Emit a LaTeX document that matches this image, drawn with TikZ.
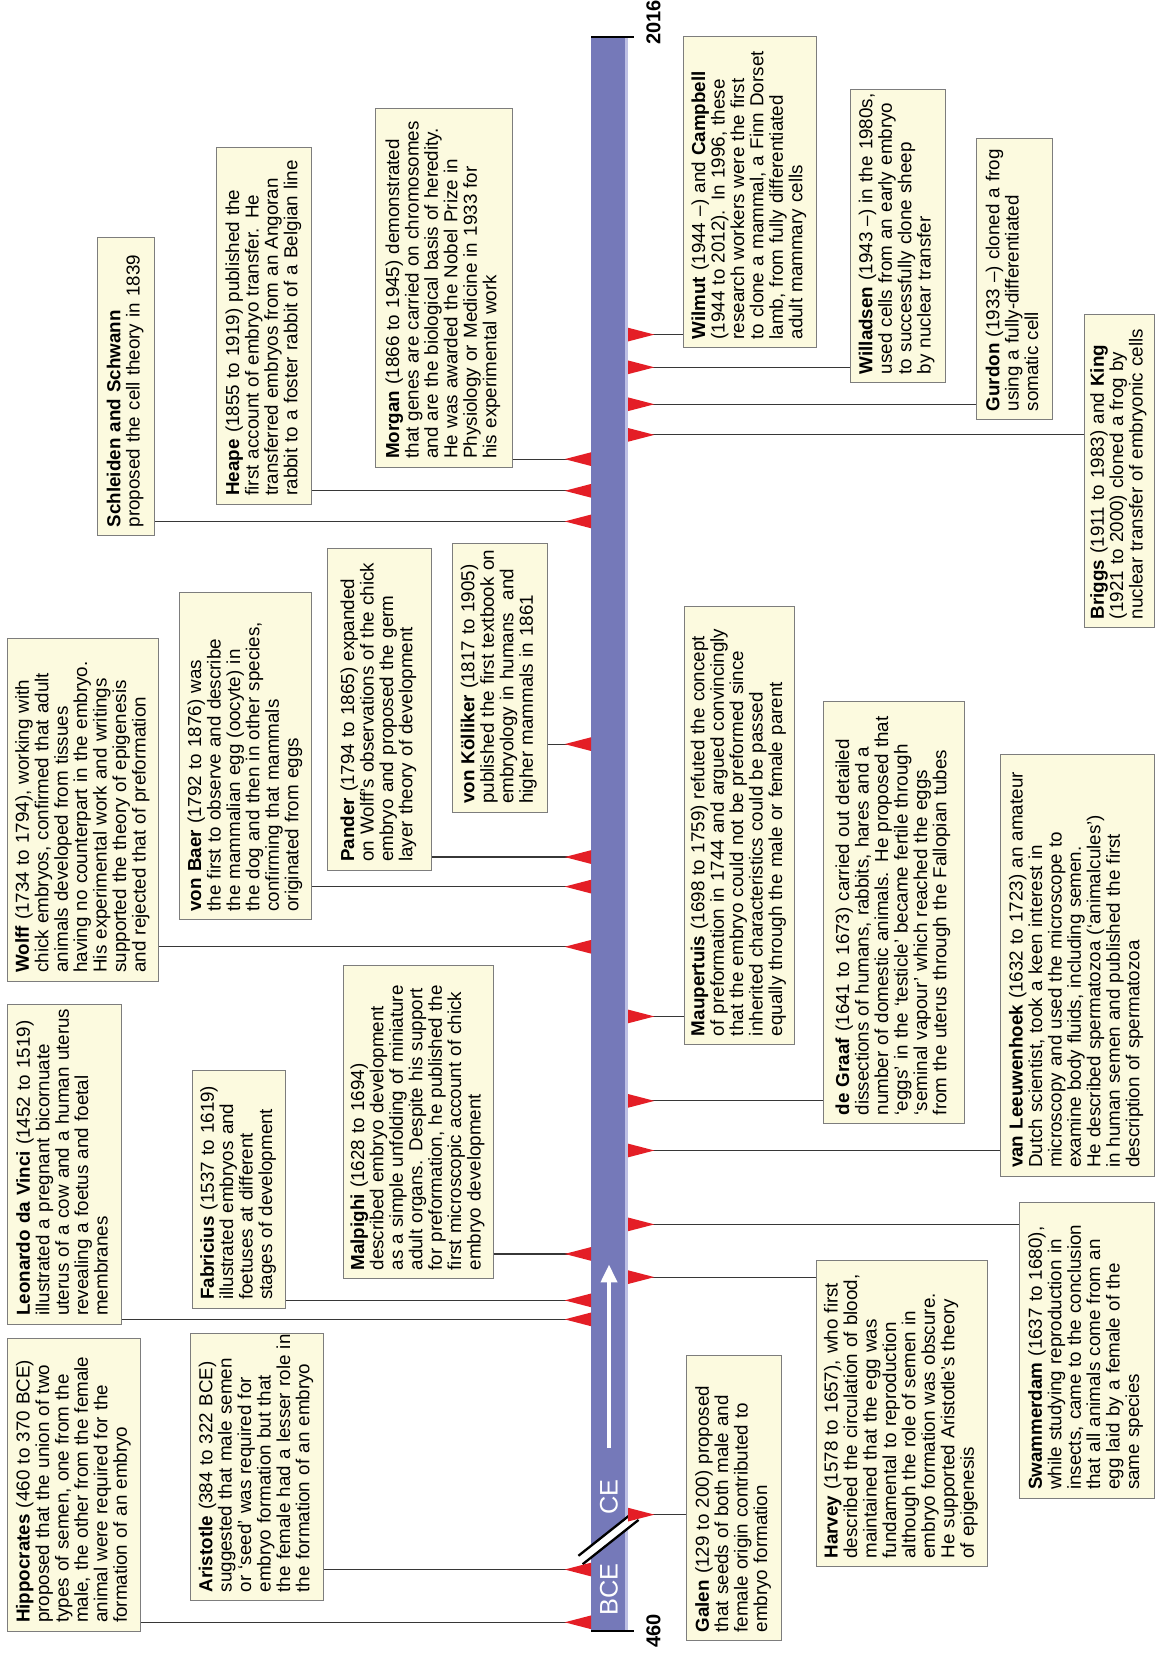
\documentclass[tikz,border=0pt]{standalone}
\usepackage{fontspec}
\setmainfont{Liberation Sans}
\usetikzlibrary{arrows.meta}
\definecolor{barblue}{RGB}{117,121,185}
\definecolor{barlight}{RGB}{190,192,228}
\definecolor{boxfill}{RGB}{252,250,223}
\definecolor{boxgray}{RGB}{125,125,125}
\definecolor{connc}{RGB}{55,55,55}
\definecolor{mkred}{RGB}{228,30,38}
\newcommand\tx[1]{\noindent\begin{tabular}{@{}l@{}}#1\end{tabular}}
\begin{document}
\begin{tikzpicture}[x=1pt,y=1pt,
  ev/.style={draw=boxgray, fill=boxfill, line width=0.9pt, rotate=90, anchor=north west,
    inner xsep=8pt, inner ysep=4pt, font=\fontsize{17.8}{18.4}\selectfont},
  conn/.style={draw=connc, line width=1.1pt},
  mk/.style={fill=mkred},
  yr/.style={font=\fontsize{19}{19}\selectfont\bfseries, rotate=90, inner sep=0pt},
  era/.style={font=\fontsize{24}{24}\selectfont, text=white, rotate=90, inner sep=0pt}]
\useasboundingbox (0,0) rectangle (1094,-1568);
\fill[white] (0,0) rectangle (1094,-1568);

% timeline bar
\node[fill=barblue, minimum width=35pt, minimum height=1510pt, inner sep=0pt, anchor=north west] (bar) at (560,-35) {};
\fill[barlight] (592,-35) rectangle (595,-1545);
\draw[line width=2pt] (bar.north west) -- ++(41,0);
\draw[line width=2pt] (bar.south west) -- ++(41,0);
\node[yr] (y2016) at (619,-21) {2016};
\node[yr] (y460) at (619,-1545) {460};

% era marks
\node[era] (bce) at (577,-1506) {BCE};
\node[era] (ce) at (577,-1418) {CE};
\draw[white, line width=7pt] (550,-1478) -- (603,-1436);
\draw[black, line width=2.2pt] (548,-1474) -- (601,-1432);
\draw[black, line width=2.2pt] (552,-1482) -- (605,-1440);
\coordinate (arA) at (577,-1372);
\coordinate (arB) at (577,-1198);
\draw[white, line width=4pt, -{Triangle[length=17pt,width=15pt]}] (arA) -- (arB);

% ---------- left boxes ----------
\node[ev, minimum width=277pt, minimum height=126pt, text width=261pt] (hipp) at (7,-1546) {\tx{\textbf{Hippocrates} (460 to 370 BCE)\\proposed that the union of two\\types of semen, one from the\\male, the other from the female\\animal were required for the\\formation of an embryo}};
\node[ev, minimum width=253pt, minimum height=126pt, text width=237pt] (arist) at (180,-1517) {\tx{\textbf{Aristotle} (384 to 322 BCE)\\suggested that male semen\\or ‘seed’ was required for\\embryo formation but that\\the female had a lesser role in\\the formation of an embryo}};
\node[ev, minimum width=303pt, minimum height=108pt, text width=287pt] (leo) at (7,-1255) {\tx{\textbf{Leonardo da Vinci} (1452 to 1519)\\illustrated a pregnant bicornuate\\uterus of a cow and a human uterus\\revealing a foetus and foetal\\membranes}};
\node[ev, minimum width=225pt, minimum height=88pt, text width=209pt] (fab) at (182,-1240) {\tx{\textbf{Fabricius} (1537 to 1619)\\illustrated embryos and\\foetuses at different\\stages of development}};
\node[ev, minimum width=297pt, minimum height=142pt, text width=281pt] (malp) at (325,-1212) {\tx{\textbf{Malpighi} (1628 to 1694)\\described embryo development\\as a simple unfolding of miniature\\adult organs. Despite his support\\for preformation, he published the\\first microscopic account of chick\\embryo development}};
\node[ev, minimum width=325pt, minimum height=143pt, text width=309pt] (wolff) at (7,-930) {\tx{\textbf{Wolff} (1734 to 1794), working with\\chick embryos, confirmed that adult\\animals developed from tissues\\having no counterpart in the embryo.\\His experimental work and writings\\supported the theory of epigenesis\\and rejected that of preformation}};
\node[ev, minimum width=310pt, minimum height=125pt, text width=294pt] (baer) at (170,-872) {\tx{\textbf{von Baer} (1792 to 1876) was\\the first to observe and describe\\the mammalian egg (oocyte) in\\the dog and then in other species,\\confirming that mammals\\originated from eggs}};
\node[ev, minimum width=305pt, minimum height=98pt, text width=289pt] (pander) at (310,-825) {\tx{\textbf{Pander} (1794 to 1865) expanded\\on Wolff’s observations of the chick\\embryo and proposed the germ\\layer theory of development}};
\node[ev, minimum width=255pt, minimum height=90pt, text width=239pt] (koll) at (428,-770) {\tx{\textbf{von Kölliker} (1817 to 1905)\\published the first textbook on\\embryology in humans \ and\\higher mammals in 1861}};
\node[ev, minimum width=283pt, minimum height=54pt, text width=267pt] (schl) at (92,-508) {\tx{\textbf{Schleiden and Schwann}\\proposed the cell theory in 1839}};
\node[ev, minimum width=338pt, minimum height=90pt, text width=322pt] (heape) at (205,-478) {\tx{\textbf{Heape} (1855 to 1919) published the\\first account of embryo transfer. He\\transferred embryos from an Angoran\\rabbit to a foster rabbit of a Belgian line}};
\node[ev, minimum width=340pt, minimum height=130pt, text width=324pt] (morgan) at (355,-443) {\tx{\textbf{Morgan} (1866 to 1945) demonstrated\\that genes are carried on chromosomes\\and are the biological basis of heredity.\\He was awarded the Nobel Prize in\\Physiology or Medicine in 1933 for\\his experimental work}};

% ---------- right boxes ----------
\node[ev, minimum width=270pt, minimum height=90pt, text width=254pt] (galen) at (650,-1555) {\tx{\textbf{Galen} (129 to 200) proposed\\that seeds of both male and\\female origin contributed to\\embryo formation}};
\node[ev, minimum width=290pt, minimum height=162pt, text width=274pt] (harvey) at (773,-1485) {\tx{\textbf{Harvey} (1578 to 1657), who first\\described the circulation of blood,\\maintained that the egg was\\fundamental to reproduction\\although the role of semen in\\embryo formation was obscure.\\He supported Aristotle’s theory\\of epigenesis}};
\node[ev, minimum width=280pt, minimum height=128pt, text width=264pt] (swamm) at (965,-1420) {\tx{\textbf{Swammerdam} (1637 to 1680),\\while studying reproduction in\\insects, came to the conclusion\\that all animals come from an\\egg laid by a female of the\\same species}};
\node[ev, minimum width=400pt, minimum height=146pt, text width=384pt] (leeuw) at (947,-1115) {\tx{\textbf{van Leeuwenhoek} (1632 to 1723) an amateur\\Dutch scientist, took a keen interest in\\microscopy and used the microscope to\\examine body fluids, including semen.\\He described spermatozoa (‘animalcules’)\\in human semen and published the first\\description of spermatozoa}};
\node[ev, minimum width=400pt, minimum height=133pt, text width=384pt] (graaf) at (780,-1065) {\tx{\textbf{de Graaf} (1641 to 1673) carried out detailed\\dissections of humans, rabbits, hares and a\\number of domestic animals. He proposed that\\‘eggs’ in the ‘testicle’ became fertile through\\‘seminal vapour’ which reached the eggs\\from the uterus through the Fallopian tubes}};
\node[ev, minimum width=415pt, minimum height=104pt, text width=399pt] (maup) at (648,-990) {\tx{\textbf{Maupertuis} (1698 to 1759) refuted the concept\\of preformation in 1744 and argued convincingly\\that the embryo could not be preformed since\\inherited characteristics could be passed\\equally through the male or female parent}};
\node[ev, minimum width=297pt, minimum height=66pt, text width=281pt] (briggs) at (1027,-595) {\tx{\textbf{Briggs} (1911 to 1983) and \textbf{King}\\(1921 to 2000) cloned a frog by\\nuclear transfer of embryonic cells}};
\node[ev, minimum width=266pt, minimum height=72pt, text width=250pt] (gurdon) at (925,-398) {\tx{\textbf{Gurdon} (1933 –) cloned a frog\\using a fully-differentiated\\somatic cell}};
\node[ev, minimum width=278pt, minimum height=90pt, text width=262pt] (willad) at (805,-363) {\tx{\textbf{Willadsen} (1943 –) in the 1980s,\\used cells from an early embryo\\to successfully clone sheep\\by nuclear transfer}};
\node[ev, minimum width=295pt, minimum height=126pt, text width=279pt] (wilmut) at (647,-330) {\tx{\textbf{Wilmut} (1944 –) and \textbf{Campbell}\\(1944 to 2012). In 1996, these\\research workers were the first\\to clone a mammal, a Finn Dorset\\lamb, from fully differentiated\\adult mammary cells}};

% ---------- anchor points on the bar ----------
\foreach \n/\y in {hipp/1537, arist/1487, leo/1250, fab/1232, malp/1188, wolff/897, baer/840, pander/812, koll/705, schl/494, heape/465, morgan/435}{
  \coordinate (p-\n) at (560,-\y);
  \draw[conn] (\n.south |- p-\n) -- (p-\n);
  \fill[mk] (p-\n) ++(0,6.5) -- ++(-25,-6.5) -- ++(25,-6.5) -- cycle;
}
\foreach \n/\y in {galen/1435, harvey/1210, swamm/1160, leeuw/1090, graaf/1043, maup/963, briggs/412, gurdon/383, willad/348, wilmut/317}{
  \coordinate (p-\n) at (595,-\y);
  \draw[conn] (p-\n) -- (\n.north |- p-\n);
  \fill[mk] (p-\n) ++(0,6.5) -- ++(25,-6.5) -- ++(-25,-6.5) -- cycle;
}
\end{tikzpicture}
\end{document}
